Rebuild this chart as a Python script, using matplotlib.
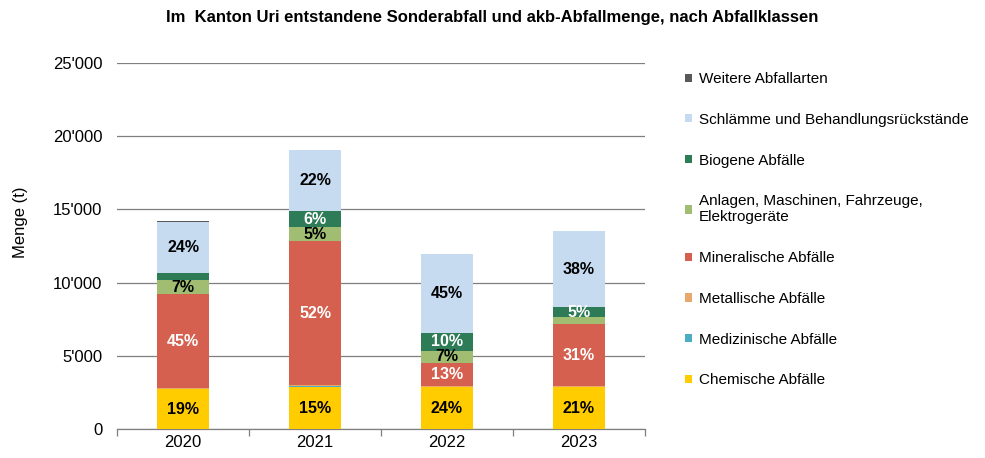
import matplotlib
matplotlib.use("Agg")
import matplotlib.pyplot as plt
import numpy as np

plt.rcParams["font.family"] = ["Liberation Sans", "DejaVu Sans"]

# years on the x axis
YEARS = ["2020", "2021", "2022", "2023"]

# amounts in tonnes per waste class, stacked bottom -> top
CHEMISCHE = [2700, 2870, 2860, 2870]
MEDIZINISCHE = [30, 80, 20, 20]
METALLISCHE = [60, 40, 80, 30]
MINERALISCHE = [6400, 9850, 1560, 4250]
ANLAGEN = [1000, 930, 840, 460]
BIOGENE = [500, 1130, 1200, 700]
SCHLAEMME = [3450, 4150, 5380, 5180]
WEITERE = [50, 40, 40, 40]

Y_TICKS = [0, 5000, 10000, 15000, 20000, 25000]
Y_TICK_LABELS = ["0", "5'000", "10'000", "15'000", "20'000", "25'000"]

# (label, values, colour, label colour for the % text)
series = [
    ("Chemische Abfälle", CHEMISCHE, "#FFCC00", "black"),
    ("Medizinische Abfälle", MEDIZINISCHE, "#4BACC6", "black"),
    ("Metallische Abfälle", METALLISCHE, "#E6A86B", "black"),
    ("Mineralische Abfälle", MINERALISCHE, "#D6604F", "white"),
    ("Anlagen, Maschinen, Fahrzeuge,\nElektrogeräte", ANLAGEN, "#A0BD72", "black"),
    ("Biogene Abfälle", BIOGENE, "#2E7B58", "white"),
    ("Schlämme und Behandlungsrückstände", SCHLAEMME, "#C6DBF0", "black"),
    ("Weitere Abfallarten", WEITERE, "#595959", "black"),
]

fig = plt.figure(figsize=(9.85, 4.58), dpi=100)
ax = fig.add_axes([0.1188, 0.0633, 0.536, 0.7991])

x = np.arange(len(YEARS))
totals = np.sum([s[1] for s in series], axis=0)
bottom = np.zeros(len(YEARS))
handles = []
for label, vals, col, tcol in series:
    vals = np.array(vals, dtype=float)
    h = ax.bar(x, vals, 0.4, bottom=bottom, color=col, label=label, zorder=3)
    handles.append(h)
    for i, v in enumerate(vals):
        pct = round(v / totals[i] * 100)
        if pct >= 5:
            ax.text(x[i], bottom[i] + v / 2, f"{pct}%", ha="center", va="center",
                    fontsize=11.5, fontweight="bold", color=tcol, zorder=4)
    bottom += vals

ax.set_xlim(-0.5, len(YEARS) - 0.5)
ax.set_ylim(0, 25000)
ax.set_yticks(Y_TICKS)
ax.set_yticklabels(Y_TICK_LABELS, fontsize=12)
ax.tick_params(axis="y", length=0, pad=10.5)
ax.set_xticks(x)
ax.set_xticklabels(YEARS, fontsize=12)
ax.tick_params(axis="x", length=0, pad=4)
# boundary tick marks between categories
ax.set_xticks(np.arange(-0.5, len(YEARS)), minor=True)
ax.tick_params(axis="x", which="minor", length=5, color="#7F7F7F", width=0.9)

ax.grid(axis="y", color="#7F7F7F", lw=0.9, zorder=0)
for s in ["top", "right", "left"]:
    ax.spines[s].set_visible(False)
ax.spines["bottom"].set_color("#7F7F7F")
ax.spines["bottom"].set_linewidth(0.9)

ax.set_ylabel("Menge (t)", fontsize=12)
ax.yaxis.set_label_coords(-0.168, 0.566)

fig.text(0.5, 0.962, "Im  Kanton Uri entstandene Sonderabfall und akb-Abfallmenge, nach Abfallklassen",
         ha="center", va="center", fontsize=12, fontweight="bold",
         family=["Liberation Sans Narrow", "Liberation Sans"])

leg = fig.legend(handles[::-1], [s[0] for s in series][::-1],
                 loc="upper left", bbox_to_anchor=(0.689, 0.856),
                 frameon=False, fontsize=11, handlelength=0.45, handleheight=0.45,
                 handletextpad=0.45, labelspacing=1.75, borderaxespad=0)

fig.savefig("out.png", dpi=100)
